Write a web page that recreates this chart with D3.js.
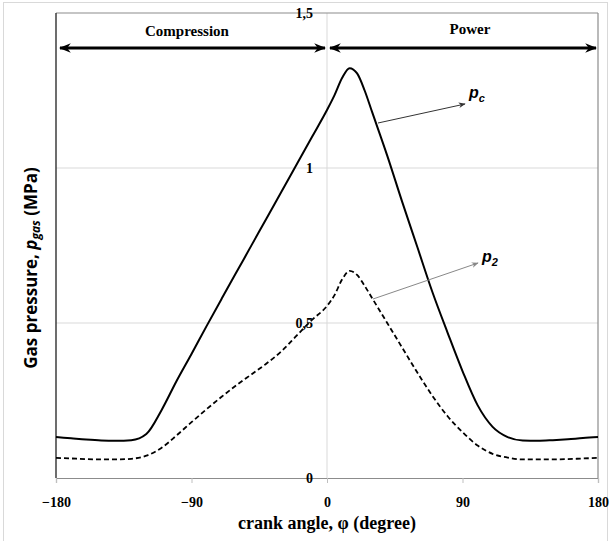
<!DOCTYPE html>
<html><head><meta charset="utf-8">
<script src="https://cdn.jsdelivr.net/npm/d3@7"></script>
<style>body{margin:0;background:#fff}svg{display:block}</style>
</head><body>
<script>
const angles = [-180,-170,-160,-150,-140,-130,-120,-110,-100,-90,-80,-70,-60,-50,-40,-30,-20,-10,0,5,10,15,20,25,30,40,50,60,70,80,90,100,110,120,130,140,150,160,170,180];
const pc = [0.132,0.128,0.124,0.121,0.120,0.122,0.142,0.218,0.312,0.400,0.490,0.578,0.665,0.752,0.839,0.926,1.013,1.100,1.187,1.235,1.290,1.322,1.305,1.250,1.180,1.040,0.890,0.745,0.600,0.470,0.345,0.235,0.165,0.132,0.121,0.120,0.122,0.125,0.129,0.132];
const p2 = [0.065,0.063,0.061,0.060,0.060,0.062,0.072,0.097,0.137,0.180,0.222,0.262,0.300,0.335,0.370,0.410,0.460,0.510,0.555,0.590,0.640,0.668,0.655,0.620,0.580,0.500,0.420,0.340,0.265,0.200,0.148,0.105,0.078,0.066,0.060,0.060,0.060,0.061,0.063,0.065];
const xTicks = [-180,-90,0,90,180];
const yTicks = [0,0.5,1,1.5];
const yTickLabels = ["0","0,5","1","1,5"];
const phases = ["Compression","Power"];

const W=611,H=541;
const svg=d3.select("body").append("svg").attr("width",W).attr("height",H);
const x=d3.scaleLinear().domain([-180,180]).range([56,598]);
const y=d3.scaleLinear().domain([0,1.5]).range([478,13]);

svg.append("rect").attr("x",3.5).attr("y",2.5).attr("width",604).attr("height",560)
  .attr("fill","none").attr("stroke","#d9d9d9");

svg.append("g").selectAll("line").data([0.5,1]).join("line")
  .attr("x1",x(-180)).attr("x2",x(180)).attr("y1",d=>y(d)).attr("y2",d=>y(d))
  .attr("stroke","#d9d9d9").attr("stroke-width",1);
svg.append("line").attr("x1",x(0)).attr("x2",x(0)).attr("y1",y(1.5)).attr("y2",y(0))
  .attr("stroke","#d9d9d9");
svg.append("line").attr("x1",x(-180)).attr("x2",x(180)).attr("y1",y(1.5)).attr("y2",y(1.5)).attr("stroke","#8c8c8c").attr("stroke-width",1.2);
svg.append("line").attr("x1",x(180)).attr("x2",x(180)).attr("y1",y(1.5)).attr("y2",y(0)).attr("stroke","#8c8c8c").attr("stroke-width",1.2);
svg.append("line").attr("x1",x(-180)).attr("x2",x(-180)).attr("y1",y(1.5)).attr("y2",y(0)).attr("stroke","#303030").attr("stroke-width",1.4);

const xa=svg.append("g").attr("transform",`translate(0,${y(0)})`)
  .call(d3.axisBottom(x).tickValues(xTicks).tickSize(5).tickFormat(d3.format("d")));
xa.select(".domain").attr("stroke","#8c8c8c").attr("stroke-width",1.2);
xa.selectAll(".tick line").attr("stroke","#bfbfbf");
xa.selectAll("text").attr("font-family","Liberation Serif").attr("font-weight","bold").attr("font-size",14).attr("fill","#000").attr("dy","1.5em");

svg.append("g").selectAll("text").data(yTicks).join("text")
  .attr("x",x(0)-14).attr("y",d=>y(d)).attr("dy","0.35em").attr("text-anchor","end")
  .attr("font-family","Liberation Serif").attr("font-weight","bold").attr("font-size",14)
  .text((d,i)=>yTickLabels[i]);

const line=(arr)=>d3.line().x((d,i)=>x(angles[i])).y(d=>y(d)).curve(d3.curveMonotoneX)(arr);
svg.append("path").attr("d",line(pc)).attr("fill","none").attr("stroke","#000").attr("stroke-width",2);
svg.append("path").attr("d",line(p2)).attr("fill","none").attr("stroke","#000").attr("stroke-width",1.8).attr("stroke-dasharray","5,3");

const defs=svg.append("defs");
function mk(id,col,size){
  defs.append("marker").attr("id",id).attr("viewBox","0 0 10 10").attr("refX",9).attr("refY",5)
    .attr("markerWidth",size).attr("markerHeight",size).attr("orient","auto-start-reverse")
    .attr("markerUnits","userSpaceOnUse")
    .append("path").attr("d","M0,1 L10,5 L0,9 L3,5 Z").attr("fill",col);
}
mk("ah","#000",12); mk("ahs","#333",7); mk("ahg","#888",7);

const ay=48;
svg.append("line").attr("x1",x(-180)+4).attr("x2",x(0)-2).attr("y1",ay).attr("y2",ay)
  .attr("stroke","#000").attr("stroke-width",3).attr("marker-start","url(#ah)").attr("marker-end","url(#ah)");
svg.append("line").attr("x1",x(0)+3).attr("x2",x(180)-2).attr("y1",ay).attr("y2",ay)
  .attr("stroke","#000").attr("stroke-width",3).attr("marker-start","url(#ah)").attr("marker-end","url(#ah)");
svg.append("text").attr("x",x(-93)).attr("y",36).attr("text-anchor","middle")
  .attr("font-family","Liberation Serif").attr("font-weight","bold").attr("font-size",15).text(phases[0]);
svg.append("text").attr("x",x(95)).attr("y",34).attr("text-anchor","middle")
  .attr("font-family","Liberation Serif").attr("font-weight","bold").attr("font-size",15).text(phases[1]);

svg.append("line").attr("x1",378).attr("y1",123).attr("x2",465).attr("y2",104)
  .attr("stroke","#333").attr("stroke-width",1).attr("marker-end","url(#ahs)");
svg.append("line").attr("x1",373).attr("y1",299).attr("x2",478).attr("y2",263)
  .attr("stroke","#888").attr("stroke-width",1).attr("marker-end","url(#ahg)");
const a1=svg.append("text").attr("x",469).attr("y",98).attr("font-family","Liberation Sans").attr("font-weight","bold").attr("font-style","italic").attr("font-size",16);
a1.append("tspan").text("p");
a1.append("tspan").attr("dy",4).attr("font-size",11).text("c");
const a2=svg.append("text").attr("x",482).attr("y",262).attr("font-family","Liberation Sans").attr("font-weight","bold").attr("font-style","italic").attr("font-size",16);
a2.append("tspan").text("p");
a2.append("tspan").attr("dy",4).attr("font-size",11).text("2");

svg.append("text").attr("x",x(0)).attr("y",529).attr("text-anchor","middle")
  .attr("font-family","Liberation Serif").attr("font-weight","bold").attr("font-size",18)
  .text("crank angle, φ (degree)");
const yt=svg.append("text").attr("transform","translate(37,268) rotate(-90)").attr("text-anchor","middle")
  .attr("font-family","Open Sans").attr("font-weight","bold").attr("font-size",17);
yt.append("tspan").text("Gas pressure, ");
yt.append("tspan").attr("font-style","italic").text("p");
yt.append("tspan").attr("font-style","italic").attr("font-size",12).attr("dy",3).text("gas");
yt.append("tspan").attr("dy",-3).text(" (MPa)");
</script>
</body></html>
